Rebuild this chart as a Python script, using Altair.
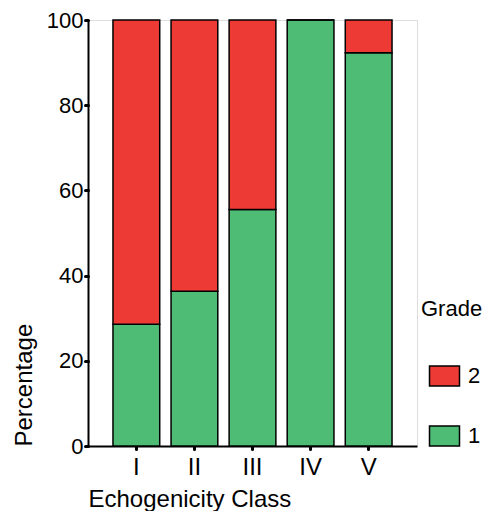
import altair as alt
import pandas as pd

classes = ["I", "II", "III", "IV", "V"]
grade1 = [28.6, 36.3, 55.5, 100.0, 92.3]
grade2 = [71.4, 63.7, 44.5, 0.0, 7.7]
grades = ["2", "1"]
colors = ["#EE3A35", "#4FBC76"]

rows = []
for c, g1, g2 in zip(classes, grade1, grade2):
    rows.append({"cls": c, "grade": "1", "pct": g1, "ord": 0})
    rows.append({"cls": c, "grade": "2", "pct": g2, "ord": 1})
df = pd.DataFrame(rows)

FONT = "Liberation Sans"

chart = alt.Chart(df).mark_bar(stroke="black", strokeWidth=1.5).encode(
    x=alt.X("cls:N", sort=classes,
            scale=alt.Scale(paddingInner=0.195, paddingOuter=0.43),
            axis=alt.Axis(title="Echogenicity Class", labelAngle=0,
                          labelFontSize=24, titleFontSize=24, labelFont=FONT, titleFont=FONT,
                          titleFontWeight="normal", labelColor="black", titleColor="black",
                          domainColor="black", domainWidth=2, tickColor="black", tickWidth=3,
                          tickSize=3, tickCap="round", labelPadding=6, titleAnchor="start",
                          titlePadding=8)),
    y=alt.Y("pct:Q", stack="zero",
            scale=alt.Scale(domain=[0, 100], nice=False),
            axis=alt.Axis(title="Percentage", values=[0, 20, 40, 60, 80, 100], grid=False,
                          labelFontSize=22, titleFontSize=24, labelFont=FONT, titleFont=FONT,
                          titleFontWeight="normal", labelColor="black", titleColor="black",
                          domainColor="black", domainWidth=2, tickColor="black", tickWidth=3,
                          tickSize=3, tickCap="round", labelPadding=2, titleAnchor="start",
                          titlePadding=10)),
    color=alt.Color("grade:N", scale=alt.Scale(domain=grades, range=colors),
                    legend=alt.Legend(title="Grade", orient="none", legendX=333, legendY=279,
                                      titleFontSize=22, labelFontSize=22, titleFont=FONT,
                                      labelFont=FONT, titleFontWeight="normal",
                                      titleColor="black", labelColor="black",
                                      symbolType="M-1.5,-1L1.5,-1L1.5,1L-1.5,1Z",
                                      symbolSize=400, symbolStrokeColor="black",
                                      symbolStrokeWidth=1.5, symbolOpacity=1,
                                      symbolOffset=12.5,
                                      rowPadding=34, titlePadding=44, labelOffset=12.5,
                                      offset=0)),
    order=alt.Order("ord:Q"),
).properties(
    width=329, height=426,
    autosize=alt.AutoSizeParams(type="none"),
    padding={"left": 80, "top": 12, "right": 66, "bottom": 65},
).configure_view(stroke="#666666", strokeWidth=1.5).configure(background="white")

chart.save("out.html", embed_options={"renderer": "svg", "actions": False})
